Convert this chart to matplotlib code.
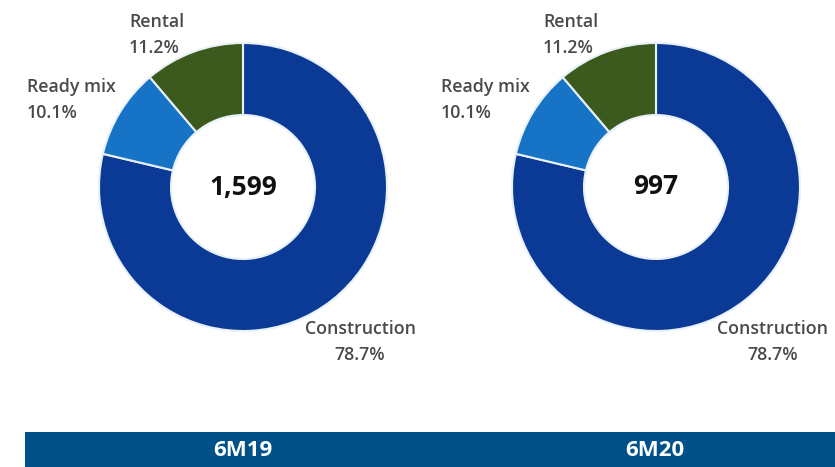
import matplotlib.pyplot as plt
from matplotlib.patches import Rectangle

plt.rcParams['font.family'] = ['Open Sans', 'DejaVu Sans']

W, H = 835, 467

segments = ['Construction', 'Ready mix', 'Rental']
share_6m19 = [78.7, 10.1, 11.2]
share_6m20 = [78.7, 10.1, 11.2]
totals = ['1,599', '997']
periods = ['6M19', '6M20']
colors = ['#0b3a96', '#1673c6', '#3c5a1e']

fig = plt.figure(figsize=(W / 100, H / 100), dpi=100)


def px(x, y):
    # pixel from top-left -> figure fraction
    return x / W, 1 - y / H


def donut(cx, cy, r, shares, total):
    ax = fig.add_axes([(cx - r) / W, (H - cy - r) / H, 2 * r / W, 2 * r / H])
    ax.pie(shares, colors=colors, startangle=90, counterclock=False,
           radius=1, wedgeprops=dict(width=0.5, edgecolor='#e8f0f8', linewidth=1.5))
    ax.set_xlim(-1, 1)
    ax.set_ylim(-1, 1)
    ax.set_aspect('equal')
    ax.axis('off')
    ax.text(0, 0, total, ha='center', va='center', fontsize=19,
            fontweight='bold', color='#111111')


donut(243, 187, 144, share_6m19, totals[0])
donut(656, 187, 144, share_6m20, totals[1])

lab = dict(fontsize=12.8, color='#4a4a4a', fontweight='semibold', linespacing=1.55)


def label(x, y, name, val, ha):
    fig.text(*px(x, y), name + '\n' + '%.1f%%' % val, ha=ha, va='top', multialignment='center' if ha == 'center' else 'left', **lab)


# 6M19 labels
label(129, 13, segments[2], share_6m19[2], 'left')
label(27, 78, segments[1], share_6m19[1], 'left')
label(360, 320, segments[0], share_6m19[0], 'center')

# 6M20 labels
label(543, 13, segments[2], share_6m20[2], 'left')
label(441, 78, segments[1], share_6m20[1], 'left')
label(773, 320, segments[0], share_6m20[0], 'center')

# bottom band
fig.patches.append(Rectangle((25 / W, 0), 1 - 25 / W, 35 / H, transform=fig.transFigure,
                             facecolor='#00508a', edgecolor='none'))
fig.text(243 / W, 17 / H, periods[0], ha='center', va='center', fontsize=16,
         fontweight='bold', color='white')
fig.text(655 / W, 17 / H, periods[1], ha='center', va='center', fontsize=16,
         fontweight='bold', color='white')

fig.savefig('out.png', dpi=100, facecolor='white')
